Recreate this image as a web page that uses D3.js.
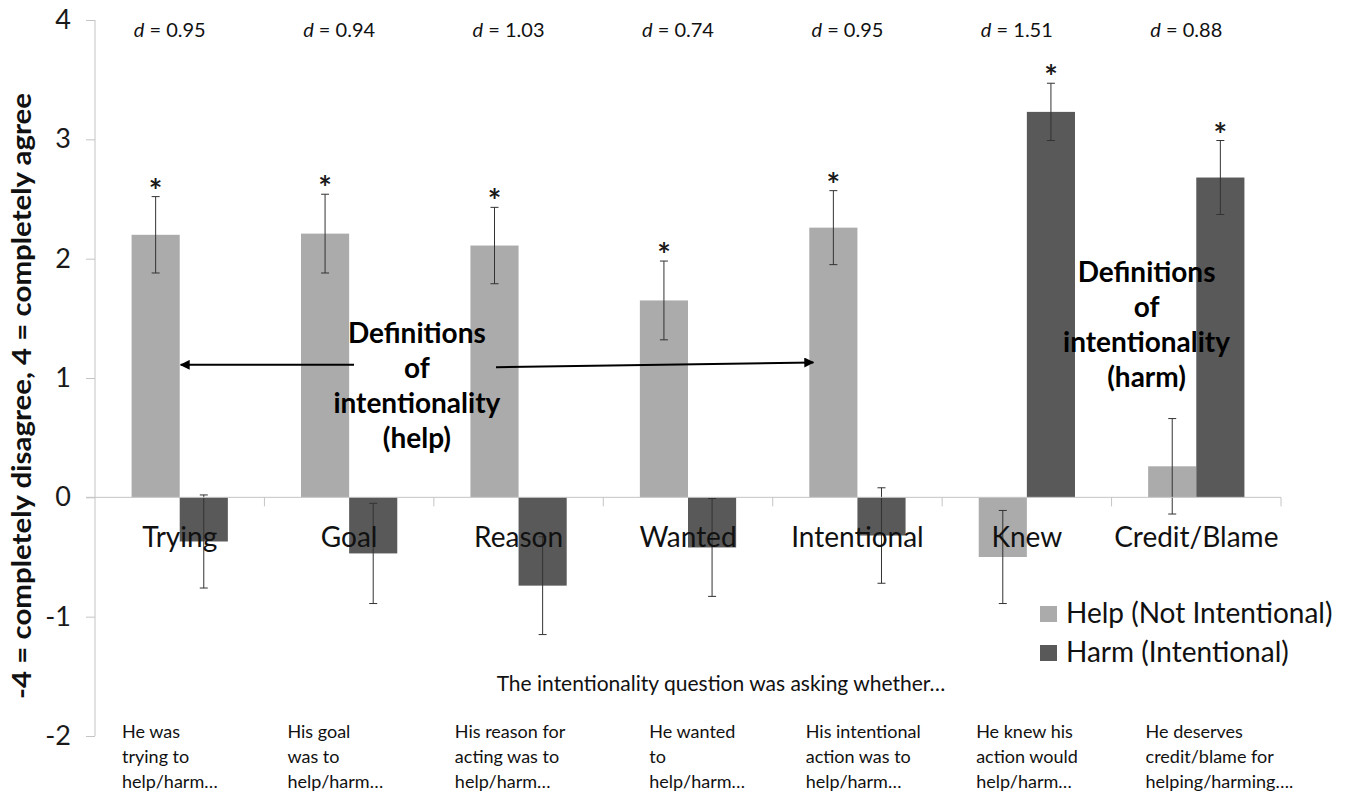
<!DOCTYPE html>
<html>
<head>
<meta charset="utf-8">
<script src="https://cdn.jsdelivr.net/npm/d3@7"></script>
<style>
  body { margin: 0; background: #fff; }
  svg { font-family: Lato, "Open Sans", sans-serif; }
</style>
</head>
<body>
<div id="chart"></div>
<script>
// chart values
var categories = ["Trying", "Goal", "Reason", "Wanted", "Intentional", "Knew", "Credit/Blame"];
var series = ["Help (Not Intentional)", "Harm (Intentional)"];
var helpValues = [2.20, 2.21, 2.11, 1.65, 2.26, -0.50, 0.26];
var harmValues = [-0.37, -0.47, -0.74, -0.42, -0.32, 3.23, 2.68];
var helpErrors = [0.32, 0.33, 0.32, 0.33, 0.31, 0.39, 0.40];
var harmErrors = [0.39, 0.42, 0.41, 0.41, 0.40, 0.24, 0.31];
var helpStars = [true, true, true, true, true, false, false];
var harmStars = [false, false, false, false, false, true, true];
var dValues = ["0.95", "0.94", "1.03", "0.74", "0.95", "1.51", "0.88"];
var yTicks = [-2, -1, 0, 1, 2, 3, 4];
var descriptions = [
  ["He was", "trying to", "help/harm…"],
  ["His goal", "was to", "help/harm…"],
  ["His reason for", "acting was to", "help/harm…"],
  ["He wanted", "to", "help/harm…"],
  ["His intentional", "action was to", "help/harm…"],
  ["He knew his", "action would", "help/harm…"],
  ["He deserves", "credit/blame for", "helping/harming…."]
];
var helpNote = ["Definitions", "of", "intentionality", "(help)"];
var harmNote = ["Definitions", "of", "intentionality", "(harm)"];
var yTitle = "-4 = completely disagree, 4 =  completely agree";
var xTitle = "The intentionality question was asking whether…";

var colors = { help: "#ababab", harm: "#595959" };

var width = 1345, height = 794;
var svg = d3.select("#chart").append("svg")
  .attr("width", width)
  .attr("height", height);

// scales
var x0 = d3.scaleBand().domain(categories).range([95, 1281]).padding(0);
var x1 = d3.scaleBand().domain(series).range([0, x0.bandwidth()]).paddingInner(0).paddingOuter(0.76);
var y = d3.scaleLinear().domain([-2, 4]).range([736, 20]);

var rows = categories.map(function (c, i) {
  return {
    cat: c,
    bars: [
      { s: series[0], v: helpValues[i], e: helpErrors[i], star: helpStars[i], color: colors.help },
      { s: series[1], v: harmValues[i], e: harmErrors[i], star: harmStars[i], color: colors.harm }
    ]
  };
});

// y axis
var yAxis = svg.append("g")
  .attr("transform", "translate(95,0)")
  .call(d3.axisLeft(y).tickValues(yTicks).tickSize(9).tickPadding(15)
    .tickFormat(function (d) { return String(d); }));
yAxis.select(".domain").attr("stroke", "#c4c4c4").attr("d", "M0," + y(4) + "V" + y(-2));
yAxis.selectAll(".tick line").attr("stroke", "#c4c4c4");
yAxis.selectAll(".tick text").attr("font-size", 27).attr("fill", "#1a1a1a")
  .attr("font-family", "Lato, sans-serif");

// bars
var groups = svg.selectAll(".cat")
  .data(rows)
  .enter().append("g")
  .attr("class", "cat")
  .attr("transform", function (d) { return "translate(" + x0(d.cat) + ",0)"; });

groups.selectAll("rect")
  .data(function (d) { return d.bars; })
  .enter().append("rect")
  .attr("x", function (d) { return x1(d.s); })
  .attr("width", x1.bandwidth())
  .attr("y", function (d) { return y(Math.max(0, d.v)); })
  .attr("height", function (d) { return Math.abs(y(d.v) - y(0)); })
  .attr("fill", function (d) { return d.color; });

// x axis along zero
var xAxis = svg.append("g")
  .attr("transform", "translate(0," + y(0) + ")");
xAxis.append("line")
  .attr("x1", 86).attr("x2", x0.range()[1])
  .attr("stroke", "#c4c4c4");
xAxis.selectAll(".xt")
  .data(categories)
  .enter().append("line")
  .attr("x1", function (d) { return x0(d) + x0.bandwidth(); })
  .attr("x2", function (d) { return x0(d) + x0.bandwidth(); })
  .attr("y1", 0).attr("y2", 9)
  .attr("stroke", "#c4c4c4");

// error bars
var errs = groups.selectAll(".err")
  .data(function (d) { return d.bars; })
  .enter().append("g")
  .attr("class", "err")
  .attr("transform", function (d) { return "translate(" + (x1(d.s) + x1.bandwidth() / 2) + ",0)"; });
errs.append("line")
  .attr("y1", function (d) { return y(d.v + d.e); })
  .attr("y2", function (d) { return y(d.v - d.e); })
  .attr("stroke", "#333").attr("stroke-width", 1);
errs.append("line")
  .attr("x1", -4).attr("x2", 4)
  .attr("y1", function (d) { return y(d.v + d.e); })
  .attr("y2", function (d) { return y(d.v + d.e); })
  .attr("stroke", "#333");
errs.append("line")
  .attr("x1", -4).attr("x2", 4)
  .attr("y1", function (d) { return y(d.v - d.e); })
  .attr("y2", function (d) { return y(d.v - d.e); })
  .attr("stroke", "#333");
errs.filter(function (d) { return d.star; })
  .append("text")
  .attr("y", function (d) { return y(d.v + d.e) + 6; })
  .attr("text-anchor", "middle")
  .attr("font-size", 32)
  .attr("font-weight", "bold")
  .attr("fill", "#1a1a1a")
  .text("*");

// category labels
svg.selectAll(".catlabel")
  .data(categories)
  .enter().append("text")
  .attr("class", "catlabel")
  .attr("x", function (d) { return x0(d) + x0.bandwidth() / 2; })
  .attr("y", 547)
  .attr("text-anchor", "middle")
  .attr("font-size", 28)
  .attr("fill", "#111")
  .text(function (d) { return d; });

// effect sizes
var dText = svg.selectAll(".dlab")
  .data(dValues)
  .enter().append("text")
  .attr("class", "dlab")
  .attr("x", function (d, i) { return x0(categories[i]) + x0.bandwidth() / 2 - 10; })
  .attr("y", 37)
  .attr("text-anchor", "middle")
  .attr("font-size", 20)
  .attr("fill", "#111");
dText.append("tspan").attr("font-style", "italic").text("d");
dText.append("tspan").text(function (d) { return " = " + d; });

// y title
svg.append("text")
  .attr("transform", "translate(31,396) rotate(-90)")
  .attr("text-anchor", "middle")
  .attr("font-size", 26)
  .attr("font-weight", "bold")
  .attr("fill", "#111")
  .attr("textLength", 606)
  .attr("lengthAdjust", "spacingAndGlyphs")
  .text(yTitle);

// x title
svg.append("text")
  .attr("x", 721)
  .attr("y", 691)
  .attr("text-anchor", "middle")
  .attr("font-size", 21)
  .attr("fill", "#111")
  .text(xTitle);

// descriptions under the chart
var descOffset = [27, 23, 21, 46, 33, 34, 34];
var desc = svg.selectAll(".desc")
  .data(descriptions)
  .enter().append("text")
  .attr("class", "desc")
  .attr("font-size", 18)
  .attr("fill", "#111");
desc.selectAll("tspan")
  .data(function (d, i) { return d.map(function (t) { return { t: t, i: i }; }); })
  .enter().append("tspan")
  .attr("x", function (d) { return x0(categories[d.i]) + descOffset[d.i]; })
  .attr("y", function (d, j) { return 738 + j * 25; })
  .text(function (d) { return d.t; });

// annotations
function note(lines, cx, y0) {
  svg.append("text")
    .attr("text-anchor", "middle")
    .attr("font-size", 28)
    .attr("font-weight", "bold")
    .attr("fill", "#000")
    .selectAll("tspan")
    .data(lines)
    .enter().append("tspan")
    .attr("x", cx)
    .attr("y", function (d, i) { return y0 + i * 35; })
    .text(function (d) { return d; });
}
note(helpNote, x0("Reason") - 17, 343);
note(harmNote, x0("Credit/Blame") + 35, 282);

svg.append("defs").append("marker")
  .attr("id", "arr")
  .attr("viewBox", "0 0 10 10")
  .attr("refX", 9).attr("refY", 5)
  .attr("markerWidth", 5).attr("markerHeight", 5)
  .attr("orient", "auto-start-reverse")
  .append("path")
  .attr("d", "M0,0L10,5L0,10z")
  .attr("fill", "#000");

svg.append("line")
  .attr("x1", 354).attr("y1", y(1.11))
  .attr("x2", x0("Trying") + x1(series[1]) + 1).attr("y2", y(1.11))
  .attr("stroke", "#000").attr("stroke-width", 2)
  .attr("marker-end", "url(#arr)");
svg.append("line")
  .attr("x1", 496).attr("y1", y(1.09))
  .attr("x2", x0("Intentional") + x1(series[0]) + 4).attr("y2", y(1.13))
  .attr("stroke", "#000").attr("stroke-width", 2)
  .attr("marker-end", "url(#arr)");

// legend
var legend = svg.selectAll(".leg")
  .data(series)
  .enter().append("g")
  .attr("class", "leg")
  .attr("transform", function (d, i) { return "translate(1040," + (606 + i * 39) + ")"; });
legend.append("rect")
  .attr("width", 17).attr("height", 16)
  .attr("fill", function (d, i) { return i === 0 ? colors.help : colors.harm; });
legend.append("text")
  .attr("x", 26).attr("y", 17)
  .attr("font-size", 28)
  .attr("fill", "#111")
  .text(function (d) { return d; });
</script>
</body>
</html>
